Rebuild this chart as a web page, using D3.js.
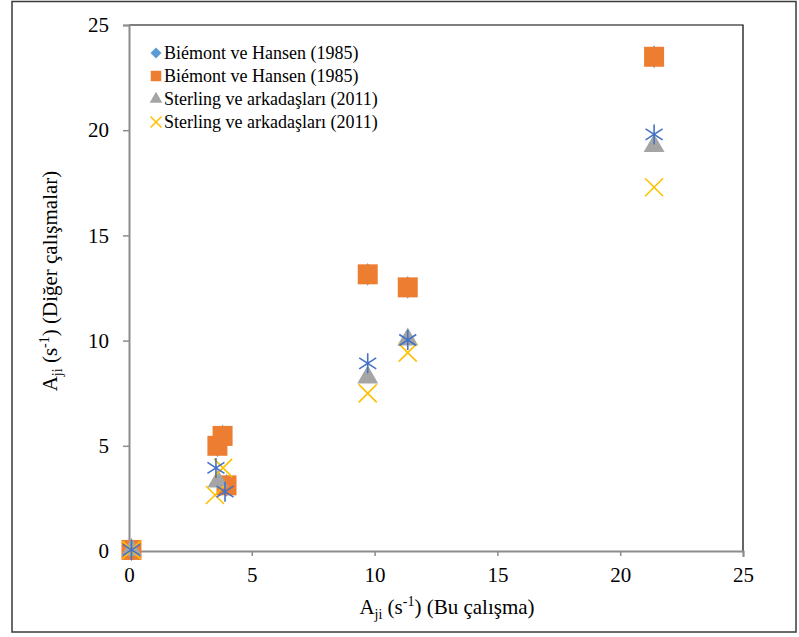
<!DOCTYPE html>
<html>
<head>
<meta charset="utf-8">
<script src="https://cdn.jsdelivr.net/npm/d3@7"></script>
<style>
  html, body { margin: 0; padding: 0; background: #fff; }
  svg { display: block; }
</style>
</head>
<body>
<svg id="chart" width="799" height="637"></svg>
<script>
// Transition probabilities A_ji (s^-1): this work (x) vs. other studies (y)
const biemontDiamond = [[0.1, 0.05], [3.6, 5.0], [3.81, 5.47], [3.97, 3.12], [9.72, 13.15], [11.35, 12.53], [21.38, 23.49]];
const biemontSquare  = [[0.1, 0.05], [3.6, 5.0], [3.81, 5.47], [3.97, 3.12], [9.72, 13.15], [11.35, 12.53], [21.38, 23.49]];
const sterlingTri    = [[0.1, 0.05], [3.62, 3.3], [9.72, 8.25], [11.35, 10.05], [21.38, 19.25]];
const sterlingCross  = [[0.1, 0.05], [3.5, 2.66], [3.83, 3.95], [9.72, 7.49], [11.35, 9.43], [21.38, 17.29]];
const otherStar      = [[0.1, 0.05], [3.54, 3.95], [3.91, 2.82], [9.72, 8.92], [11.35, 10.03], [21.38, 19.8]];

const xTicks = [0, 5, 10, 15, 20, 25];
const yTicks = [0, 5, 10, 15, 20, 25];
const legendLabels = [
  "Biémont ve Hansen (1985)",
  "Biémont ve Hansen (1985)",
  "Sterling ve arkadaşları (2011)",
  "Sterling ve arkadaşları (2011)"
];

const FONT = "'Liberation Serif', 'Times New Roman', serif";
const svg = d3.select("#chart");
const plotL = 129, plotR = 743, plotT = 25, plotB = 551;

const x = d3.scaleLinear().domain([0, 25]).range([plotL, plotR]);
const y = d3.scaleLinear().domain([0, 25]).range([plotB, plotT]);

// outer frame
svg.append("rect").attr("x", 12).attr("y", 1.5).attr("width", 784).attr("height", 630.5)
  .attr("fill", "none").attr("stroke", "#3a3a3a").attr("stroke-width", 1.5);

// plot box: top and right in black
svg.append("path")
  .attr("d", `M${plotL},${plotT}H${plotR}V${plotB}`)
  .attr("fill", "none").attr("stroke", "#000").attr("stroke-width", 1.2);

// axes
const axisColor = "#8c8c8c";
const xAxis = svg.append("g").attr("transform", `translate(0,${plotB})`)
  .call(d3.axisBottom(x).tickValues(xTicks).tickSize(6).tickPadding(10).tickFormat(d3.format("d")));
const yAxis = svg.append("g").attr("transform", `translate(${plotL},0)`)
  .call(d3.axisLeft(y).tickValues(yTicks).tickSize(6).tickPadding(14).tickFormat(d3.format("d")));
[xAxis, yAxis].forEach(g => {
  g.attr("font-family", null).attr("font-size", null);
  g.select(".domain").attr("stroke", axisColor).attr("stroke-width", 2);
  g.selectAll(".tick line").attr("stroke", axisColor).attr("stroke-width", 1.5);
  g.selectAll(".tick text").style("font-family", FONT).style("font-size", "21px").attr("fill", "#000");
});
xAxis.selectAll(".tick line").attr("y2", 5);

// marker shapes
const colors = { diamond: "#5B9BD5", square: "#ED7D31", tri: "#A5A5A5", cross: "#FFC000", star: "#4472C4" };
const sym = (type, size) => d3.symbol().type(type).size(size)();
const crossPath = r => `M${-r},${-r}L${r},${r}M${-r},${r}L${r},${-r}`;
const diamondPath = r => `M0,${-r}L${r},0L0,${r}L${-r},0Z`;
const starPath = r => `M0,${-r}V${r}M${-r * 0.85},${-r * 0.55}L${r * 0.85},${r * 0.55}M${-r * 0.85},${r * 0.55}L${r * 0.85},${-r * 0.55}`;

const plot = svg.append("g");
function drawSeries(data, draw) {
  plot.append("g").selectAll("path").data(data).join("path")
    .attr("transform", d => `translate(${x(d[0])},${y(d[1])})`)
    .each(function () { draw(d3.select(this)); });
}
drawSeries(biemontDiamond, s => s.attr("d", sym(d3.symbolDiamond, 150)).attr("fill", colors.diamond));
drawSeries(biemontSquare, s => s.attr("d", sym(d3.symbolSquare, 400)).attr("fill", colors.square));
drawSeries(sterlingTri, s => s.attr("d", sym(d3.symbolTriangle, 190)).attr("fill", colors.tri));
drawSeries(sterlingCross, s => s.attr("d", crossPath(9)).attr("fill", "none").attr("stroke", colors.cross).attr("stroke-width", 1.6));
drawSeries(otherStar, s => s.attr("d", starPath(10)).attr("fill", "none").attr("stroke", colors.star).attr("stroke-width", 1.6));

// legend
const legend = svg.append("g").attr("transform", "translate(156,53)");
const legendMarks = [
  g => g.append("path").attr("d", diamondPath(5.5)).attr("fill", colors.diamond),
  g => g.append("path").attr("d", sym(d3.symbolSquare, 110)).attr("fill", colors.square),
  g => g.append("path").attr("d", sym(d3.symbolTriangle, 70)).attr("fill", colors.tri),
  g => g.append("path").attr("d", crossPath(5.5)).attr("fill", "none").attr("stroke", colors.cross).attr("stroke-width", 1.5)
];
legendLabels.forEach((lab, i) => {
  const row = legend.append("g").attr("transform", `translate(0,${i * 23})`);
  legendMarks[i](row);
  row.append("text").attr("x", 8).attr("y", 6)
    .style("font-family", FONT).style("font-size", "18px").attr("fill", "#000").text(lab);
});

// axis titles with sub/superscripts
function axisTitle(g) {
  const t = g.append("text").attr("text-anchor", "middle")
    .style("font-family", FONT).style("font-size", "21px").attr("fill", "#000");
  t.append("tspan").text("A");
  t.append("tspan").attr("dy", 5).style("font-size", "14px").text("ji");
  t.append("tspan").attr("dy", -5).text(" (s");
  t.append("tspan").attr("dy", -8).style("font-size", "14px").text("-1");
  t.append("tspan").attr("dy", 8).text(")");
  return t;
}
const xt = axisTitle(svg.append("g").attr("transform", "translate(447,614)"));
xt.append("tspan").text(" (Bu çalışma)");
const yt = axisTitle(svg.append("g").attr("transform", "translate(57,281) rotate(-90)"));
yt.append("tspan").text(" (Diğer çalışmalar)");
</script>
</body>
</html>
